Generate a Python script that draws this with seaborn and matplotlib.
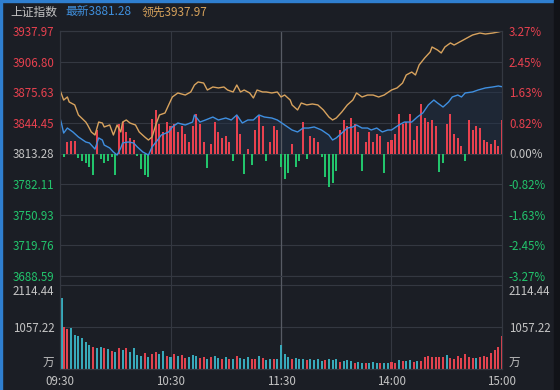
import seaborn as sns
import matplotlib.pyplot as plt
from matplotlib.patches import Rectangle

# 上证指数 分时图, values
base = 3813.28
price_ticks = [3937.97, 3906.80, 3875.63, 3844.45, 3813.28, 3782.11, 3750.93, 3719.76, 3688.59]
pct_labels = ['3.27%', '2.45%', '1.63%', '0.82%', '0.00%', '-0.82%', '-1.63%', '-2.45%', '-3.27%']
time_ticks = [0, 60, 120, 180, 240]
time_labels = ['09:30', '10:30', '11:30', '14:00', '15:00']
vol_ticks = [2114.44, 1057.22, 0]
vol_labels = ['2114.44', '1057.22', '万']

# 领先 line (minute index, price)
lead_t = [0, 2, 4, 5, 8, 10, 14, 15, 17, 19, 21, 23, 24, 27, 29, 31, 33, 34, 36, 38,
          41, 43, 46, 48, 50, 52, 54, 57, 59, 61, 64, 68, 71, 73, 75, 78, 80, 83, 86, 89,
          91, 94, 96, 98, 100, 103, 105, 107, 110, 112, 115, 118, 120, 122, 125, 126, 129, 131, 134, 137,
          140, 143, 146, 148, 150, 153, 156, 159, 161, 164, 167, 170, 173, 176, 180, 183, 186, 188, 191, 193,
          195, 198, 201, 202, 205, 207, 209, 212, 214, 217, 219, 222, 224, 228, 231, 235, 238, 240]
lead_p = [3877.9, 3867.7, 3870.8, 3865.7, 3862.7, 3852.5, 3845.3, 3842.3, 3835.2, 3832.1,
          3845.3, 3844.3, 3840.3, 3842.3, 3832.1, 3842.3, 3835.2, 3845.3, 3847.4, 3844.3,
          3842.3, 3835.2, 3830.1, 3827.0, 3830.1, 3842.3, 3852.5, 3854.5, 3862.7, 3870.8,
          3874.9, 3872.8, 3875.9, 3883.0, 3886.1, 3885.0, 3877.9, 3881.0, 3880.0, 3881.0,
          3877.9, 3875.9, 3883.0, 3875.9, 3877.9, 3874.9, 3869.8, 3877.9, 3875.9, 3875.9,
          3874.9, 3875.9, 3870.8, 3872.8, 3867.7, 3862.7, 3857.6, 3864.7, 3862.7, 3863.7,
          3862.7, 3857.6, 3850.4, 3847.4, 3849.4, 3855.5, 3862.7, 3867.7, 3874.9, 3870.8,
          3872.8, 3872.8, 3870.8, 3872.8, 3877.9, 3880.0, 3885.0, 3893.2, 3896.2, 3893.2,
          3903.4, 3910.5, 3916.6, 3921.7, 3918.6, 3915.6, 3921.7, 3925.8, 3923.7, 3926.8,
          3928.8, 3931.9, 3933.9, 3935.9, 3934.9, 3935.9, 3937.0, 3937.97]

# 最新 line (minute index, price)
last_t = [0, 1, 2, 4, 7, 10, 14, 16, 19, 21, 23, 24, 27, 29, 31, 33, 34, 37, 40, 42,
          45, 48, 50, 53, 55, 59, 61, 64, 68, 72, 73, 76, 79, 83, 86, 90, 93, 96, 99, 102,
          105, 108, 111, 115, 118, 122, 126, 129, 132, 135, 138, 142, 146, 148, 150, 153, 156, 159, 161, 164,
          167, 169, 172, 175, 178, 180, 184, 187, 191, 194, 197, 200, 203, 205, 208, 211, 213, 216, 218, 220,
          224, 227, 231, 235, 238, 240]
last_p = [3849.4, 3842.3, 3834.1, 3839.2, 3835.2, 3830.1, 3825.0, 3824.0, 3817.8, 3829.1,
          3827.0, 3821.9, 3818.9, 3814.8, 3811.7, 3818.9, 3824.0, 3825.0, 3824.0, 3819.9,
          3814.8, 3811.7, 3819.9, 3827.0, 3832.1, 3835.2, 3840.3, 3844.3, 3842.3, 3845.3,
          3852.5, 3845.3, 3847.4, 3850.4, 3847.4, 3849.4, 3847.4, 3852.5, 3844.3, 3847.4,
          3847.4, 3852.5, 3850.4, 3849.4, 3847.4, 3842.3, 3837.2, 3835.2, 3839.2, 3839.2,
          3840.3, 3837.2, 3832.1, 3827.0, 3829.1, 3834.1, 3839.2, 3840.3, 3842.3, 3839.2,
          3839.2, 3837.2, 3839.2, 3835.2, 3837.2, 3837.2, 3842.3, 3845.3, 3845.3, 3850.4,
          3854.5, 3862.7, 3867.7, 3864.7, 3860.6, 3865.7, 3870.8, 3872.8, 3870.8, 3874.9,
          3875.9, 3877.9, 3880.0, 3881.0, 3882.0, 3881.28]

# red / green strength bars, every 2 minutes (points above / below base)
bar_t = list(range(0, 241, 2))
bar_v = [-3, -4, 12, 13, 13, -5, -8, -10, -14, -22,
         24, -6, -10, -8, -4, -22, 30, 32, 22, 16,
         14, -3, -16, -22, -24, 35, 44, 30, 22, 32,
         28, 30, 22, 28, 20, 12, 28, 40, 30, 12,
         -15, 10, 32, 22, 16, 18, 12, -8, 38, 20,
         -21, 5, -12, 24, 38, 28, -8, 12, 28, 24,
         -14, -26, -20, 10, -14, -8, 32, -6, 18, 16,
         12, -4, -24, -34, -30, -18, 24, 34, 28, 36,
         30, 22, -18, 12, 22, 12, 20, 18, -20, 12,
         14, 20, 40, 30, 32, 40, 14, 28, 50, 36,
         32, 34, 28, -19, -10, 30, 40, 20, 16, 8,
         -8, 34, 24, 28, 26, 14, 12, 10, 14, 8,
         34]

# volume (万), minute index, value, colour flag (r = up, g = down)
vol_t = [0, 1] + list(range(2, 241, 2))
vol_v = [2114.44, 1787,
         1057, 1000, 1030, 860, 830, 780, 690, 600, 560, 540,
         560, 530, 500, 460, 420, 520, 480, 530, 440, 520,
         360, 330, 400, 300, 380, 420, 380, 450, 330, 300,
         380, 330, 350, 280, 300, 360, 320, 280, 300, 260,
         290, 330, 280, 250, 300, 260, 240, 330, 280, 260,
         300, 240, 250, 320, 280, 230, 250, 260, 240, 600,
         380, 300, 260, 280, 250, 240, 220, 260, 230, 250,
         200, 220, 260, 230, 240, 180, 200, 220, 190, 160,
         180, 140, 160, 150, 170, 140, 160, 150, 140, 180,
         150, 220, 200, 190, 220, 180, 190, 200, 300, 320,
         300, 290, 310, 300, 350, 280, 260, 320, 280, 380,
         300, 280, 270, 300, 320, 310, 400, 480, 560, 830]
vol_c = ('gg' 'rrggggggrg' 'grgrgrgrgg' 'ggrgrrggrg' 'rgrrgggrrg' 'rggrgrgrgg'
         'grrgrggrgg' 'ggrgggrggg' 'grgggrgggr' 'ggrgggrggr' 'rgrggrgrrr'
         'rrrrgrrrrr' 'rrgrrrrrrr')

bg = '#1b1e25'
grid = '#343841'
red = '#e8414f'
green = '#22c46c'
txt = '#c4c4c4'

sns.set_theme(style='dark')
plt.rcParams['font.family'] = ['Noto Sans CJK SC', 'DejaVu Sans']
plt.rcParams['axes.unicode_minus'] = False

fig = plt.figure(figsize=(5.6, 3.9), dpi=100, facecolor=bg)
ax = fig.add_axes([60/560, 114/390, 442/560, 245/390], facecolor=bg)
axv = fig.add_axes([60/560, 21/390, 442/560, 93/390], facecolor=bg)

# price pane
ax.set_xlim(0, 240)
ax.set_ylim(price_ticks[-1], price_ticks[0])
ax.fill_between(last_t, last_p, base, color='#22324a', alpha=0.45, lw=0, zorder=1)
ax.bar(bar_t, bar_v, bottom=base, width=1.1,
       color=[red if v > 0 else green for v in bar_v], lw=0, zorder=2)
sns.lineplot(x=last_t, y=last_p, ax=ax, color='#3f8fe0', lw=1.0, zorder=3)
sns.lineplot(x=lead_t, y=lead_p, ax=ax, color='#d8a35e', lw=1.0, zorder=4)

ax.set_yticks(price_ticks)
ax.set_yticklabels([f'{p:.2f}' for p in price_ticks])
ax.set_xticks(time_ticks)
ax.set_xticklabels([])
ax.tick_params(axis='both', length=0, pad=4, labelsize=8.3)
for lab, p in zip(ax.get_yticklabels(), price_ticks):
    lab.set_color(red if p > base + 0.01 else (green if p < base - 0.01 else txt))

axr = ax.twinx()
axr.set_ylim(ax.get_ylim())
axr.set_yticks(price_ticks)
axr.set_yticklabels(pct_labels)
axr.tick_params(axis='y', length=0, pad=5, labelsize=8.3)
for lab, p in zip(axr.get_yticklabels(), price_ticks):
    lab.set_color(red if p > base + 0.01 else (green if p < base - 0.01 else txt))

# volume pane
axv.set_xlim(0, 240)
axv.set_ylim(0, vol_ticks[0] * 93 / 84)
axv.bar(vol_t, vol_v, width=1.1,
        color=['#e2434f' if c == 'r' else '#38a9ba' for c in vol_c], lw=0, zorder=2)
axv.set_yticks(vol_ticks)
axv.set_yticklabels(vol_labels)
axv.set_xticks(time_ticks)
axv.set_xticklabels(time_labels)
axv.tick_params(axis='both', length=0, labelsize=8.3, colors=txt)
axv.tick_params(axis='x', pad=4)
axv.tick_params(axis='y', pad=4)
axvr = axv.twinx()
axvr.set_ylim(axv.get_ylim())
axvr.set_yticks(vol_ticks)
axvr.set_yticklabels(vol_labels)
axvr.tick_params(axis='y', length=0, pad=5, labelsize=8.3, colors=txt)
for a in (axv, axvr):
    labs = a.get_yticklabels()
    labs[0].set_va('top')
    labs[-1].set_va('bottom')

for a in (ax, axv):
    a.grid(True, color=grid, lw=0.8)
    a.set_axisbelow(True)
    a.axvline(120, color='#575b64', lw=0.9, zorder=1)
for a in (ax, axr, axv, axvr):
    for s in a.spines.values():
        s.set_color(grid)
        s.set_linewidth(0.8)
axv.spines['top'].set_visible(False)
axvr.spines['top'].set_visible(False)
axv.grid(axis='y', color=grid, lw=0.8)
axv.set_yticks(vol_ticks)

# header
fig.text(10/560, 1 - 12/390, '上证指数', color=txt, fontsize=8.5, va='center')
fig.text(65/560, 1 - 12/390, '最新3881.28', color='#3f8fdc', fontsize=8.5, va='center')
fig.text(142/560, 1 - 12/390, '领先3937.97', color='#d6a25c', fontsize=8.5, va='center')

# window edges
fig.patches.append(Rectangle((0, 0), 2/560, 1, transform=fig.transFigure, color='#2f7fd0', zorder=10))
fig.patches.append(Rectangle((0, 1 - 2/390), 1, 2/390, transform=fig.transFigure, color='#2f7fd0', zorder=10))
fig.patches.append(Rectangle((1 - 6/560, 0), 6/560, 1, transform=fig.transFigure, color='#111318', zorder=10))

fig.savefig('out.png', dpi=100, facecolor=bg)
